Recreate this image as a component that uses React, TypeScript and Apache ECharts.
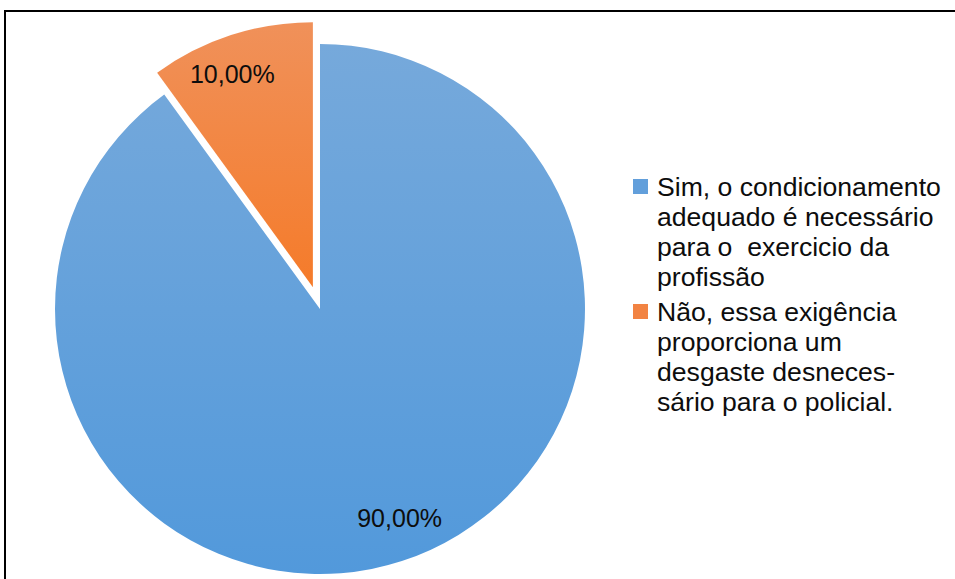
import React, { useEffect, useRef } from "react";
import * as echarts from "echarts";

const categories = [
  "Sim, o condicionamento adequado é necessário para o  exercicio da profissão",
  "Não, essa exigência proporciona um desgaste desnecessário para o policial.",
];
const legendLines = [
  ["Sim, o condicionamento", "adequado é necessário", "para o  exercicio da", "profissão"],
  ["Não, essa exigência", "proporciona um", "desgaste desneces-", "sário para o policial."],
];
const values = [90, 10];
const topColors = ["#76a9db", "#f0915a"];
const bottomColors = ["#5299db", "#f57b2a"];
const iconColors = ["#629fdb", "#f28342"];
const labelNudges = [
  [9, -8],
  [-10, 4],
];

const FONT = "'Liberation Sans', Arial, sans-serif";

export default function App() {
  const ref = useRef<HTMLDivElement>(null);
  useEffect(() => {
    if (!ref.current) return;
    const chart = echarts.init(ref.current, null, { renderer: "svg" });
    const center = [320, 309];
    const R = 265;
    const grad = (i: number) =>
      new echarts.graphic.LinearGradient(0, 0, 0, 1, [
        { offset: 0, color: topColors[i] },
        { offset: 1, color: bottomColors[i] },
      ]);
    const fmt = (v: number) => v.toFixed(2).replace(".", ",") + "%";
    const rich: any = {
      t: { fontSize: 26.6, lineHeight: 30, color: "#0d0d0d", fontFamily: FONT },
      sp: { width: 9, height: 15, lineHeight: 30 },
      pad: { width: 24, height: 15, lineHeight: 30 },
    };
    iconColors.forEach((c, i) => {
      rich["sq" + i] = { width: 15, height: 15, backgroundColor: c, lineHeight: 30 };
    });
    chart.setOption({
      animation: false,
      textStyle: { fontFamily: FONT },
      graphic: [
        {
          type: "rect",
          shape: { x: 5, y: 11, width: 970, height: 600 },
          style: { fill: "none", stroke: "#000", lineWidth: 2 },
          silent: true,
        },
      ],
      legend: {
        orient: "vertical",
        left: 628,
        top: 173,
        padding: 0,
        itemGap: 8,
        itemWidth: 0,
        itemHeight: 14,
        icon: "none",
        data: categories,
        formatter: (name: string) => {
          const i = categories.indexOf(name);
          return legendLines[i]
            .map((l, j) => (j === 0 ? `{sq${i}|}{sp|}` : `{pad|}`) + `{t|${l}}`)
            .join("\n");
        },
        textStyle: { rich },
      },
      series: [
        {
          type: "pie",
          center,
          radius: [0, R],
          startAngle: 90,
          clockwise: true,
          selectedMode: "single",
          selectedOffset: 23,
          emphasis: { disabled: true },
          label: { show: false },
          labelLine: { show: false },
          data: categories.map((name, i) => ({
            name,
            value: values[i],
            selected: i === 1,
            itemStyle: { color: grad(i) },
            select: { itemStyle: { color: grad(i), borderWidth: 0 } },
          })),
        },
        {
          type: "pie",
          center,
          radius: [186, R],
          startAngle: 90,
          clockwise: true,
          silent: true,
          selectedMode: "single",
          selectedOffset: 23,
          emphasis: { disabled: true },
          itemStyle: { color: "rgba(0,0,0,0)" },
          labelLine: { show: false },
          label: {
            show: true,
            position: "inside",
            fontSize: 25,
            color: "#0d0d0d",
            fontFamily: FONT,
            formatter: (p: any) => fmt(p.value),
          },
          data: categories.map((name, i) => ({
            name,
            value: values[i],
            selected: i === 1,
            label: { offset: labelNudges[i] },
            select: {
              itemStyle: { color: "rgba(0,0,0,0)", borderWidth: 0 },
              label: { offset: labelNudges[i] },
            },
          })),
        },
      ],
    });
    return () => chart.dispose();
  }, []);
  return (
    <div
      ref={ref}
      style={{ position: "absolute", left: 0, top: 0, width: 955, height: 579, background: "#fff" }}
    />
  );
}
